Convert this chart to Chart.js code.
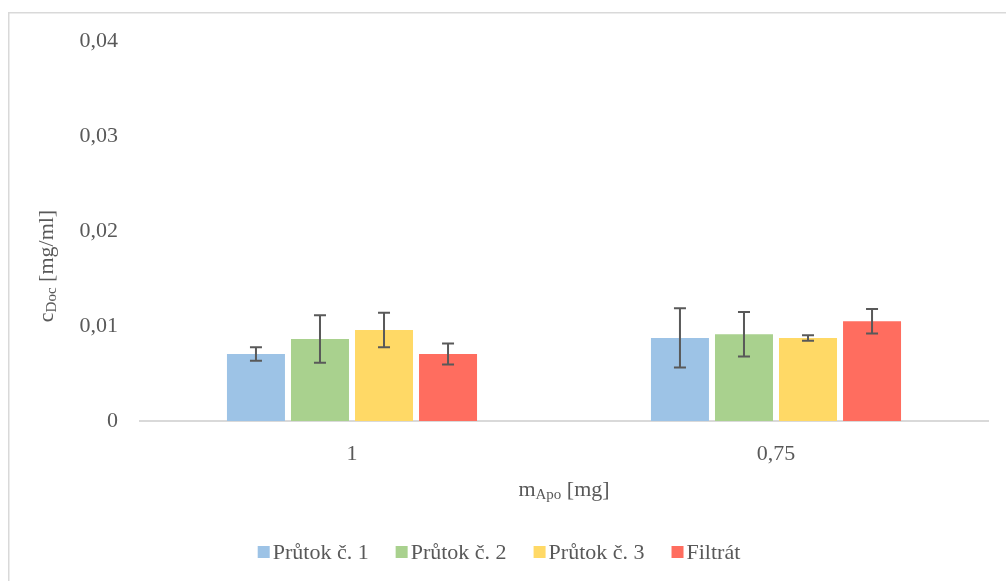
<!DOCTYPE html>
<html>
<head>
<meta charset="utf-8">
<script src="https://cdn.jsdelivr.net/npm/chart.js@4/dist/chart.umd.min.js"></script>
<style>
  html, body { margin: 0; padding: 0; background: #fff; }
  #wrap { width: 1006px; height: 581px; }
</style>
</head>
<body>
<div id="wrap"><canvas id="chart" width="1006" height="581"></canvas></div>
<script>
// categories on x axis (m_Apo)
const categories = ['1', '0,75'];

// series labels
const seriesNames = ['Průtok č. 1', 'Průtok č. 2', 'Průtok č. 3', 'Filtrát'];
const seriesColors = ['#9DC3E6', '#A9D18E', '#FFD966', '#FF6D5F'];

// mean values per series
const prutok1 = [0.00705, 0.00874];
const prutok2 = [0.00863, 0.00913];
const prutok3 = [0.00958, 0.00874];
const filtrat = [0.00705, 0.0105];

// error (+/-) per series
const err1 = [0.00072, 0.00312];
const err2 = [0.00251, 0.00235];
const err3 = [0.00181, 0.00028];
const errF = [0.0011, 0.00128];

const yTicks = [0, 0.01, 0.02, 0.03, 0.04];

const values = [prutok1, prutok2, prutok3, filtrat];
const errors = [err1, err2, err3, errF];

const FONT = '"Liberation Serif", "Times New Roman", serif';
const TEXT = '#595959';

function fmt(v) {
    if (v === 0) return '0';
    return v.toFixed(2).replace('.', ',');
}

// frame around the chart
const framePlugin = {
    id: 'frame',
    beforeDraw(chart) {
        const ctx = chart.ctx;
        ctx.save();
        ctx.fillStyle = '#fff';
        ctx.fillRect(0, 0, chart.width, chart.height);
        ctx.strokeStyle = '#d9d9d9';
        ctx.lineWidth = 1.5;
        ctx.strokeRect(8.75, 12.75, 1100, 700);
        ctx.restore();
    }
};

// error bars drawn from the y scale
const errorBarPlugin = {
    id: 'errorBars',
    afterDatasetsDraw(chart) {
        const ctx = chart.ctx;
        const y = chart.scales.y;
        ctx.save();
        ctx.strokeStyle = '#595959';
        ctx.lineWidth = 2;
        chart.data.datasets.forEach((ds, di) => {
            const meta = chart.getDatasetMeta(di);
            meta.data.forEach((bar, i) => {
                const v = ds.data[i];
                const e = errors[di][i];
                const top = y.getPixelForValue(v + e);
                const bot = y.getPixelForValue(v - e);
                const x = bar.x;
                ctx.beginPath();
                ctx.moveTo(x, top); ctx.lineTo(x, bot);
                ctx.moveTo(x - 6, top); ctx.lineTo(x + 6, top);
                ctx.moveTo(x - 6, bot); ctx.lineTo(x + 6, bot);
                ctx.stroke();
            });
        });
        ctx.restore();
    }
};

// axis titles with subscripts + legend
function drawSub(ctx, parts, x, y) {
    // parts: [[text, sub?], ...]; centered at x
    let total = 0;
    parts.forEach(p => {
        ctx.font = (p[1] ? '15px ' : '22px ') + FONT;
        total += ctx.measureText(p[0]).width;
    });
    let cx = x - total / 2;
    parts.forEach(p => {
        ctx.font = (p[1] ? '15px ' : '22px ') + FONT;
        ctx.fillText(p[0], cx, p[1] ? y + 5 : y);
        cx += ctx.measureText(p[0]).width;
    });
}

const titlesPlugin = {
    id: 'titles',
    afterDraw(chart) {
        const ctx = chart.ctx;
        const area = chart.chartArea;
        ctx.save();
        ctx.fillStyle = TEXT;
        ctx.textBaseline = 'middle';
        ctx.textAlign = 'left';
        // x title
        drawSub(ctx, [['m', false], ['Apo', true], [' [mg]', false]], (area.left + area.right) / 2, 490);
        // y title
        ctx.save();
        ctx.translate(47, 266);
        ctx.rotate(-Math.PI / 2);
        drawSub(ctx, [['c', false], ['Doc', true], [' [mg/ml]', false]], 0, 0);
        ctx.restore();

        // legend
        ctx.font = '22px ' + FONT;
        const box = 12, gap = 3, space = 27;
        let total = 0;
        seriesNames.forEach((n, i) => {
            total += box + gap + ctx.measureText(n).width + (i < seriesNames.length - 1 ? space : 0);
        });
        let x = 499 - total / 2;
        const ly = 552;
        seriesNames.forEach((n, i) => {
            ctx.fillStyle = seriesColors[i];
            ctx.fillRect(x, ly - box / 2, box, box);
            ctx.fillStyle = TEXT;
            ctx.fillText(n, x + box + gap, ly + 1);
            x += box + gap + ctx.measureText(n).width + space;
        });
        ctx.restore();
    }
};

new Chart(document.getElementById('chart').getContext('2d'), {
    type: 'bar',
    data: {
        labels: categories,
        datasets: seriesNames.map((name, i) => ({
            label: name,
            data: values[i],
            backgroundColor: seriesColors[i],
            borderWidth: 0,
            categoryPercentage: 0.604,
            barPercentage: 0.906
        }))
    },
    options: {
        responsive: false,
        animation: false,
        layout: { padding: { top: 41, right: 18, left: 0, bottom: 0 } },
        plugins: {
            legend: { display: false },
            tooltip: { enabled: false }
        },
        scales: {
            x: {
                grid: { display: false, drawTicks: false },
                border: { color: '#d9d9d9', width: 2 },
                ticks: { color: TEXT, font: { family: FONT, size: 22 }, padding: 20 },
                afterFit(scale) { scale.height = 160; }
            },
            y: {
                min: 0,
                max: 0.04,
                afterBuildTicks(scale) { scale.ticks = yTicks.map(v => ({ value: v })); },
                grid: { display: false, drawTicks: false },
                border: { display: false },
                ticks: {
                    color: TEXT,
                    font: { family: FONT, size: 22 },
                    padding: 22,
                    callback: v => fmt(v)
                },
                afterFit(scale) { scale.width = 140; }
            }
        }
    },
    plugins: [framePlugin, errorBarPlugin, titlesPlugin]
});
</script>
</body>
</html>
